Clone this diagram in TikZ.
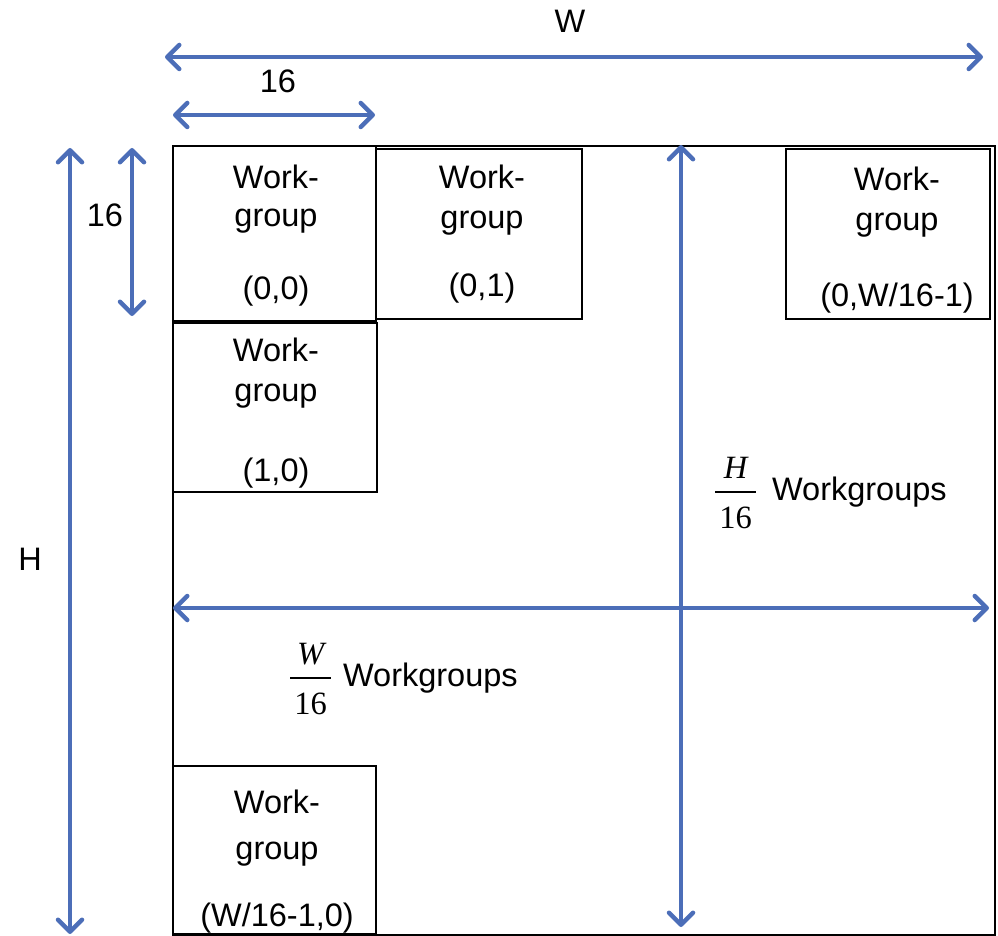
\RequirePackage{fix-cm}
\documentclass[tikz,border=0pt]{standalone}
\usepackage{fontspec}
\setmainfont{Liberation Sans}
\newfontfamily\serifface{Liberation Serif}
\usetikzlibrary{arrows.meta}
\definecolor{dimblue}{RGB}{76,110,184}
\newcommand\fracnum[1]{\hbox{\serifface\itshape #1}}
\newcommand\fracden[1]{\hbox{\serifface\kern4pt\raisebox{-6pt}{#1}\kern4pt}}
\newcommand\countfrac[2]{$\displaystyle{\fracnum{#1}\above1.8pt\fracden{#2}}$}
\tikzset{
  frame/.style={draw=black, line width=2pt, inner sep=0pt, anchor=north west},
  wgbox/.style={draw=black, line width=2pt, inner sep=0pt, anchor=north west,
    minimum width=203pt, minimum height=172pt},
  wgtext/.style={anchor=north, inner sep=0pt, align=center,
    font=\fontsize{32.5}{40}\selectfont},
  dimarrow/.style={draw=dimblue, line width=4.5pt,
    {Straight Barb[length=12pt,width=24pt,round]}-{Straight Barb[length=12pt,width=24pt,round]}},
  dimlabel/.style={inner sep=0pt, anchor=base, font=\fontsize{32.5}{40}\selectfont},
  countlabel/.style={inner sep=0pt, anchor=base west, font=\fontsize{32.5}{40}\selectfont},
}
\begin{document}
\begin{tikzpicture}[x=1pt, y=-1pt]
\useasboundingbox (0,0) rectangle (998,936);

% the whole image domain
\node[frame, minimum width=822pt, minimum height=789pt] (grid) at (172,145) {};

% work-group tiles
\node[wgbox, minimum height=175pt] (b00) at (172,145) {};
\node[wgbox, minimum width=206pt, minimum height=170pt] (b01) at (375,148) {};
\node[wgbox, minimum width=204pt, minimum height=170pt] (b0n) at (785,148) {};
\node[wgbox, minimum width=204pt, minimum height=169pt] (b10) at (172,321.5) {};
\node[wgbox, minimum height=168pt] (bn0) at (172,765) {};

\node[wgtext] (t00) at (276,165) {Work-\\[-2pt]group\\[33pt](0,0)};
\node[wgtext] (t01) at (482,165) {Work-\\group\\[28pt](0,1)};
\node[wgtext] (t0n) at (897,167) {Work-\\group\\[36pt](0,W/16-1)};
\node[wgtext] (t10) at (276,338) {Work-\\group\\[40pt](1,0)};
\node[wgtext] (tn0) at (277,790) {Work-\\[6pt]group\\[27pt](W/16-1,0)};

% dimension arrows
\coordinate (wL) at (165,57);  \coordinate (wR) at (983,57);
\coordinate (sL) at (173,115); \coordinate (sR) at (375,115);
\coordinate (hT) at (70,148);  \coordinate (hB) at (70,934);
\coordinate (vT) at (132,148); \coordinate (vB) at (132,316);
\coordinate (qT) at (681,145); \coordinate (qB) at (681,927);
\coordinate (pL) at (173,608); \coordinate (pR) at (989,608);

\draw[dimarrow] (wL) -- (wR);
\draw[dimarrow] (sL) -- (sR);
\draw[dimarrow] (hT) -- (hB);
\draw[dimarrow] (vT) -- (vB);
\draw[dimarrow] (qT) -- (qB);
\draw[dimarrow] (pL) -- (pR);

% dimension labels
\node[dimlabel] (lw) at (570,33) {W};
\node[dimlabel] (ls) at (278,93) {16};
\node[dimlabel] (lh) at (30,570) {H};
\node[dimlabel] (lv) at (105,226) {16};

% work-group counts
\node[countlabel] (ch) at (714,500) {\countfrac{H}{16}\hspace{15pt}Workgroups};
\node[countlabel] (cw) at (289,686) {\countfrac{W}{16}\hspace{11pt}Workgroups};
\end{tikzpicture}
\end{document}
